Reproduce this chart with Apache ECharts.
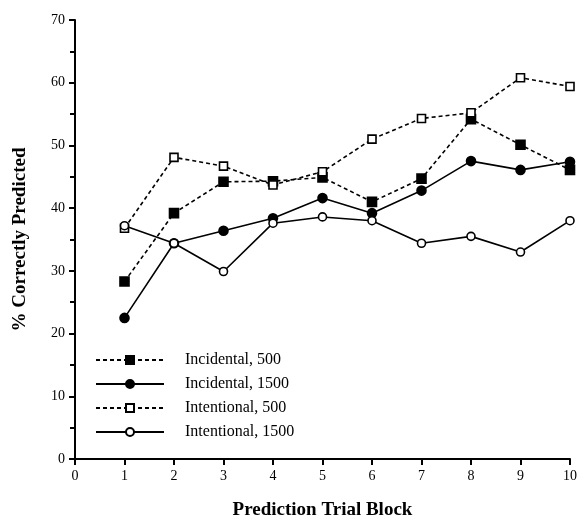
<!DOCTYPE html>
<html>
<head>
<meta charset="UTF-8">
<title>Prediction Trial Block</title>
<script src="https://cdn.jsdelivr.net/npm/echarts@6/dist/echarts.min.js"></script>
<style>
  body { margin: 0; background: #fff; }
  #container { width: 578px; height: 517px; }
</style>
</head>
<body>
<div id="container"></div>
<script>
    // data
    var blocks = [1, 2, 3, 4, 5, 6, 7, 8, 9, 10];
    var incidental500 = [28.3, 39.2, 44.2, 44.3, 44.9, 41.0, 44.7, 54.2, 50.1, 46.1];
    var incidental1500 = [22.5, 34.4, 36.4, 38.4, 41.6, 39.2, 42.8, 47.5, 46.1, 47.4];
    var intentional500 = [36.8, 48.1, 46.7, 43.7, 45.8, 51.0, 54.3, 55.2, 60.8, 59.4];
    var intentional1500 = [37.2, 34.4, 29.9, 37.6, 38.6, 38.0, 34.4, 35.5, 33.0, 38.0];
    var names = ['Incidental, 500', 'Incidental, 1500', 'Intentional, 500', 'Intentional, 1500'];

    var font = 'Liberation Serif';

    function pairs(vals) {
        var out = [];
        for (var i = 0; i < blocks.length; i++) out.push([blocks[i], vals[i]]);
        return out;
    }

    function makeSeries(name, vals, symbol, filled, dashed) {
        return {
            name: name,
            type: 'line',
            data: pairs(vals),
            symbol: symbol,
            symbolSize: filled ? 9 : 8,
            lineStyle: { color: '#000', width: 1.6, type: dashed ? [4, 3] : 'solid' },
            itemStyle: { color: filled ? '#000' : '#fff', borderColor: '#000', borderWidth: 1.6 },
            emphasis: { disabled: true },
            z: filled ? 3 : 4
        };
    }

    var chart = echarts.init(document.getElementById('container'));
    var option = {
        animation: false,
        backgroundColor: '#fff',
        grid: { left: 75, right: 8, top: 20, bottom: 58, containLabel: false, outerBoundsMode: 'none' },
        legend: {
            orient: 'vertical',
            left: 90,
            top: 347,
            itemWidth: 68,
            itemHeight: 10,
            itemGap: 8,
            textStyle: { fontFamily: font, fontSize: 16, color: '#000', padding: [0, 0, 0, 16] },
            data: names
        },
        xAxis: {
            type: 'value',
            min: 0,
            max: 10,
            interval: 1,
            name: 'Prediction Trial Block',
            nameLocation: 'middle',
            nameGap: 42,
            nameTextStyle: { fontFamily: font, fontSize: 19, fontWeight: 'bold', color: '#000' },
            axisLine: { lineStyle: { color: '#000', width: 2 } },
            axisTick: { show: true, length: 6, lineStyle: { color: '#000', width: 2 } },
            axisLabel: { fontFamily: font, fontSize: 14, color: '#000', margin: 10 },
            splitLine: { show: false }
        },
        yAxis: {
            type: 'value',
            min: 0,
            max: 70,
            interval: 10,
            name: '% Correctly Predicted',
            nameLocation: 'middle',
            nameGap: 45,
            nameTextStyle: { fontFamily: font, fontSize: 19, fontWeight: 'bold', color: '#000' },
            axisLine: { show: true, lineStyle: { color: '#000', width: 2 } },
            axisTick: { show: true, length: 6, lineStyle: { color: '#000', width: 2 } },
            minorTick: { show: true, splitNumber: 2, length: 5, lineStyle: { color: '#000', width: 2 } },
            axisLabel: { fontFamily: font, fontSize: 14, color: '#000', margin: 10 },
            splitLine: { show: false }
        },
        series: [
            makeSeries(names[0], incidental500, 'rect', true, true),
            makeSeries(names[1], incidental1500, 'circle', true, false),
            makeSeries(names[2], intentional500, 'rect', false, true),
            makeSeries(names[3], intentional1500, 'circle', false, false)
        ]
    };
    chart.setOption(option);
</script>
</body>
</html>
